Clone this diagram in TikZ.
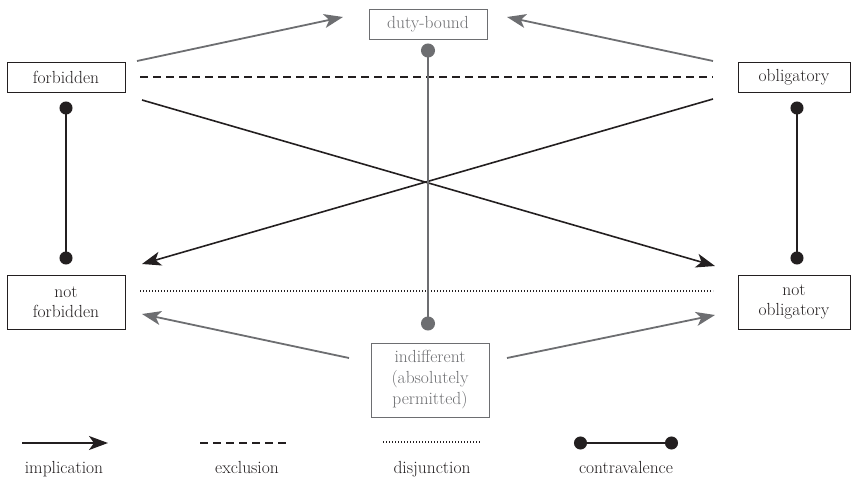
\documentclass[tikz,border=0pt]{standalone}
\usetikzlibrary{arrows.meta}
\definecolor{ink}{HTML}{231F20}
\definecolor{grey}{HTML}{6D6E71}
\begin{document}
\begin{tikzpicture}[x=1pt,y=-1pt,
  box/.style={draw=ink, line width=1pt, text=ink, minimum width=118pt, minimum height=30pt,
    inner sep=0pt, align=center, font=\rmfamily\fontsize{17.5}{20}\selectfont},
  gbox/.style={box, draw=grey, text=grey},
  impl/.style={ink, line width=1.6pt, -{Stealth[length=19pt,width=14pt,inset=5pt]}},
  gimpl/.style={grey, line width=1.8pt, -{Stealth[length=19pt,width=14pt,inset=5pt]}},
  excl/.style={ink, line width=1.4pt, dash pattern=on 8pt off 5pt},
  disj/.style={ink, line width=1.1pt, dash pattern=on 1.1pt off 1.9pt},
  contra/.style={ink, line width=1.6pt, {Circle[length=13pt]}-{Circle[length=13pt]}},
  gcontra/.style={grey, line width=1.8pt, {Circle[length=14pt]}-{Circle[length=14pt]}},
  lbl/.style={text=ink, inner sep=0pt, anchor=base, font=\rmfamily\fontsize{17.5}{20}\selectfont}
]
\useasboundingbox (0,0) rectangle (851,479);

% nodes
\node[box] (forb) at (66,77) {forbidden};
\node[box, minimum width=112pt] (obl) at (794,77) {obligatory};
\node[gbox] (duty) at (428,24) {duty-bound};
\node[box, minimum height=54pt] (nforb) at (66,302) {not\\forbidden};
\node[box, minimum width=112pt, minimum height=54pt] (nobl) at (794,302) {not\\obligatory};
\node[gbox, minimum height=74pt, font=\rmfamily\fontsize{17.5}{21}\selectfont] (ind) at (430,380) {indifferent\\(absolutely\\permitted)};

% connector end points
\coordinate (fUp) at (137,61);
\coordinate (oUp) at (713,61);
\coordinate (dL) at (343,17);
\coordinate (dR) at (507,17);
\coordinate (fDn) at (142,100);
\coordinate (oDn) at (713,99);
\coordinate (nfTip) at (142,264);
\coordinate (noTip) at (715,266);
\coordinate (iL) at (349,358);
\coordinate (iR) at (507,358);
\coordinate (nfTip2) at (142,314);
\coordinate (noTip2) at (715,315);
\coordinate (exA) at (140,77);
\coordinate (exB) at (713,77);
\coordinate (djA) at (140,291);
\coordinate (djB) at (713,291);

% upper gray implications
\draw[gimpl] (fUp) -- (dL);
\draw[gimpl] (oUp) -- (dR);
% exclusion and disjunction
\draw[excl] (exA) -- (exB);
\draw[disj] (djA) -- (djB);
% crossing implications
\draw[impl] (fDn) -- (noTip);
\draw[impl] (oDn) -- (nfTip);
% lower gray implications
\draw[gimpl] (iL) -- (nfTip2);
\draw[gimpl] (iR) -- (noTip2);
% contravalences
\draw[contra, shorten <=9pt, shorten >=10pt] (forb) -- (nforb);
\draw[contra, shorten <=9pt, shorten >=10pt] ([xshift=3pt]obl.south) -- ([xshift=3pt]nobl.north);
\draw[gcontra, shorten <=4pt, shorten >=12pt] (duty) -- (duty |- ind.north);

% legend
\coordinate (l1a) at (22,443); \coordinate (l1b) at (108,443);
\coordinate (l2a) at (200,443); \coordinate (l2b) at (290,443);
\coordinate (l3a) at (383,442); \coordinate (l3b) at (480,442);
\coordinate (l4a) at (574,443); \coordinate (l4b) at (678,443);
\draw[impl] (l1a) -- (l1b);
\draw[excl] (l2a) -- (l2b);
\draw[disj] (l3a) -- (l3b);
\draw[contra] (l4a) -- (l4b);
\node[lbl] (t1) at (64,473) {implication};
\node[lbl] (t2) at (247,473) {exclusion};
\node[lbl] (t3) at (432,473) {disjunction};
\node[lbl] (t4) at (626,473) {contravalence};
\end{tikzpicture}
\end{document}
